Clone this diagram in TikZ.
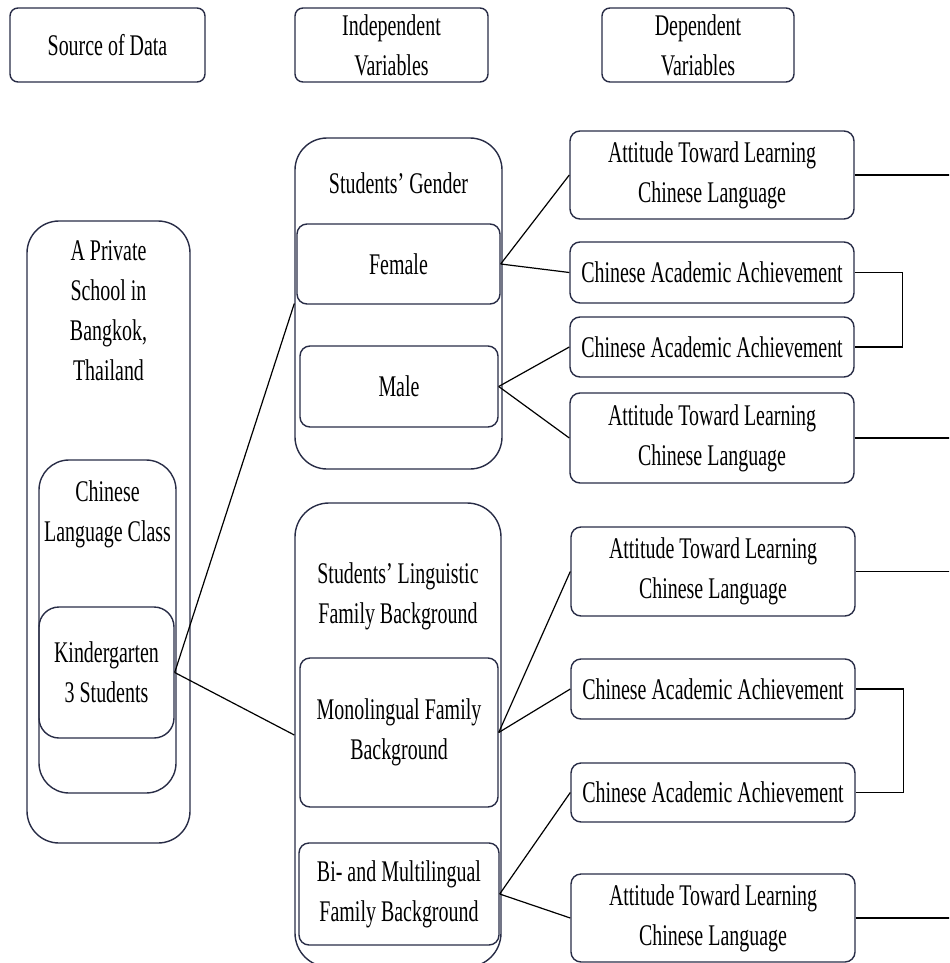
\documentclass[tikz,border=0pt]{standalone}
\usepackage{fontspec}
\setmainfont[FakeStretch=0.665]{Liberation Serif}
\usepackage{tikz}
\usepackage{xcolor}
\definecolor{boxline}{RGB}{40,44,70}

\begin{document}
\begin{tikzpicture}[x=0.5pt,y=-0.5pt,
	every node/.style={font=\fontsize{15}{20}\selectfont,align=center,inner sep=0pt},
	headbox/.style={draw=boxline,line width=0.7pt,rounded corners=4pt,minimum height=37pt},
	outerbox/.style={draw=boxline,line width=0.7pt,rounded corners=16pt},
	varbox/.style={draw=boxline,line width=0.7pt,rounded corners=5pt},
	depbox/.style={draw=boxline,line width=0.7pt,rounded corners=5pt,minimum width=142pt},
	link/.style={line width=0.6pt}]
		\useasboundingbox (0,0) rectangle (949,963);
		\clip (0,0) rectangle (949,963);
		\node (src)[headbox,minimum width=97.5pt] at (107.5,45) {Source of Data};
		\node (indep)[headbox,minimum width=96.5pt] at (391.5,45) {Independent\\Variables};
		\node (dep)[headbox,minimum width=96pt] at (698,45) {Dependent\\Variables};
		\node (school)[outerbox,minimum width=81.5pt,minimum height=311pt] at (108.5,532) {};
		\node (schooltxt) at (108.5,311) {A Private\\School in\\Bangkok,\\Thailand};
		\node (class)[outerbox,rounded corners=15pt,minimum width=68.5pt,minimum height=166.5pt] at (107.5,626.5) {};
		\node (classtxt) at (107.5,514) {Chinese\\Language Class};
		\node (kinder)[varbox,rounded corners=10pt,minimum width=67.5pt,minimum height=65.5pt] at (106.5,672.5) {Kindergarten\\3 Students};
		\node (gender)[outerbox,minimum width=103.5pt,minimum height=165.5pt] at (398.5,303.5) {};
		\node (gendertxt) at (398.5,183) {Students’ Gender};
		\node (female)[varbox,minimum width=101.5pt,minimum height=40pt] at (398.5,264) {Female};
		\node (male)[varbox,minimum width=99pt,minimum height=40.5pt] at (399,386.5) {Male};
		\node (ling)[outerbox,rounded corners=17pt,minimum width=103pt,minimum height=232pt] at (398,735) {};
		\node (lingtxt) at (398,596) {Students’ Linguistic\\Family Background};
		\node (mono)[varbox,minimum width=99pt,minimum height=74.5pt] at (399,732.5) {Monolingual Family\\Background};
		\node (multi)[varbox,minimum width=100pt,minimum height=51pt] at (399,894) {Bi- and Multilingual\\Family Background};
		\node (att1)[depbox,minimum height=44pt] at (712,175) {Attitude Toward Learning\\Chinese Language};
		\node (caa1)[depbox,minimum height=30.5pt] at (712,272.5) {Chinese Academic Achievement};
		\node (caa2)[depbox,minimum height=30pt] at (712,347) {Chinese Academic Achievement};
		\node (att2)[depbox,minimum height=45pt] at (712,438) {Attitude Toward Learning\\Chinese Language};
		\node (att3)[depbox,minimum height=44.5pt] at (713,571.5) {Attitude Toward Learning\\Chinese Language};
		\node (caa3)[depbox,minimum height=30pt] at (713,689) {Chinese Academic Achievement};
		\node (caa4)[depbox,minimum height=29.5pt] at (713,792.5) {Chinese Academic Achievement};
		\node (att4)[depbox,minimum height=44pt] at (713,918) {Attitude Toward Learning\\Chinese Language};
		\coordinate (rim) at (960,0);
		\draw[link] (kinder.east) edge (gender.west) edge (ling.west);
		\draw[link] (female.east) edge (att1.west) edge (caa1.west);
		\draw[link] (male.east) edge (caa2.west) edge (att2.west);
		\draw[link] (mono.east) edge (att3.west) edge (caa3.west);
		\draw[link] (multi.east) edge (caa4.west) edge (att4.west);
		\draw[link] (caa1.east) -- ++(48,0) |- (caa2.east);
		\draw[link] (caa3.east) -- ++(48,0) |- (caa4.east);
		\draw[link] (att1.east) -- (att1.east -| rim) (att2.east) -- (att2.east -| rim);
		\draw[link] (att3.east) -- (att3.east -| rim) (att4.east) -- (att4.east -| rim);
		\end{tikzpicture}
\end{document}
